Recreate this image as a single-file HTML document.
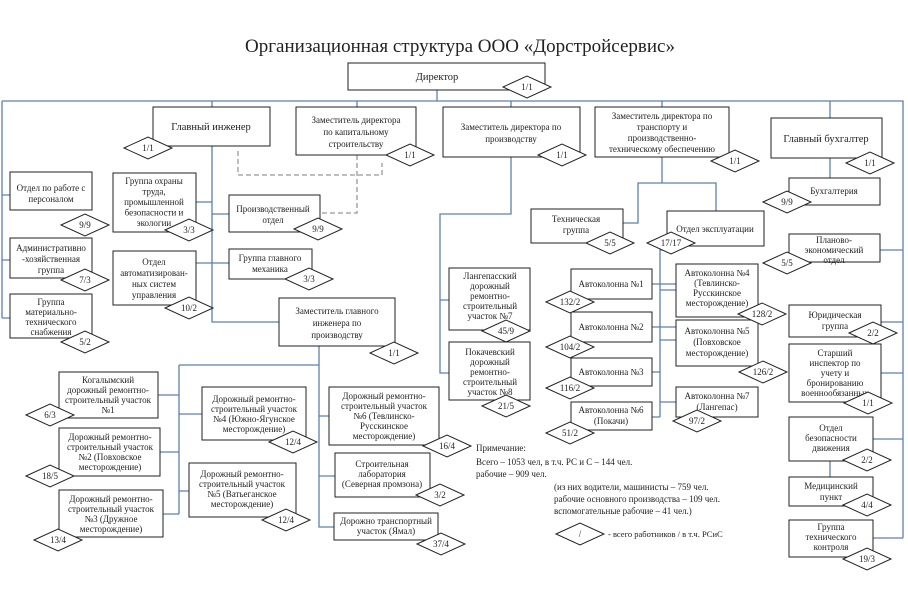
<!DOCTYPE html>
<html><head><meta charset="utf-8"><style>
body{margin:0;background:#fff}
svg{display:block}
text{font-family:"Liberation Serif",serif;fill:#222;font-size:9px}
.b{fill:#fff;stroke:#222;stroke-width:1}
.l{stroke:#5f80aa;stroke-width:1.3;fill:none}
.d{stroke:#999;stroke-width:1.3;fill:none;stroke-dasharray:5,3}
.t{text-anchor:middle}
</style></head><body>
<svg width="908" height="610" viewBox="0 0 908 610" xmlns="http://www.w3.org/2000/svg">
<defs><polygon id="dm" points="-24,0 0,-11 24,0 0,11" fill="#fff" stroke="#222" stroke-width="1"/></defs>
<text x="460" y="52" class="t" style="font-size:19px">Организационная структура ООО «Дорстройсервис»</text>

<g class="l">
<path d="M437 90V101M2 101H903V538M2 101V318M2 195H10M2 260H10M2 318H10"/>
<path d="M212 101V107M212 146V322H279M196 202H212M212 214H229M196 263H212M212 263H229"/>
<path d="M357 101V107M511 101V107M662 101V107M830 101V118"/>
<path d="M511 157V214H440V373H449M440 300H449"/>
<path d="M662 157V183H638V223H623M638 183H716V211"/>
<path d="M663 250H660V417M652 284H676M652 327H676M652 372H660M652 417H660M660 290H676M660 340H676M660 402H676"/>
<path d="M830 158V178M880 250H903M881 322H903M881 373H903M873 439H903M873 538H903M830 461V477"/>
<path d="M319 346V527H334M179 365H319M179 365V514M158 395H179M160 452H179M163 514H179M179 414H202M179 491H189M319 416H329M319 476H335"/>
</g>
<path class="d" d="M238 151V175H382V163M357 155V213H320"/>

<g>
<rect class="b" x="348" y="63" width="197" height="27"/><text x="437" y="80" class="t" style="font-size:10.5px">Директор</text>
<rect class="b" x="153" y="107" width="117" height="39"/><text x="211" y="130" class="t" style="font-size:10.5px">Главный инженер</text>
<rect class="b" x="296" y="107" width="120" height="48"/><text class="t" x="356" y="123">Заместитель директора<tspan x="356" dy="12">по капитальному</tspan><tspan x="356" dy="12">строительству</tspan></text>
<rect class="b" x="443" y="107" width="137" height="50"/><text class="t" x="511" y="130">Заместитель директора по<tspan x="511" dy="12">производству</tspan></text>
<rect class="b" x="595" y="107" width="134" height="50"/><text class="t" x="662" y="119">Заместитель директора по<tspan x="662" dy="11">транспорту и</tspan><tspan x="662" dy="11">производственно-</tspan><tspan x="662" dy="11">техническому обеспечению</tspan></text>
<rect class="b" x="771" y="118" width="111" height="40"/><text x="826" y="142" class="t" style="font-size:10.5px">Главный бухгалтер</text>

<rect class="b" x="10" y="172" width="82" height="38"/><text class="t" x="51" y="191">Отдел по работе с<tspan x="51" dy="11">персоналом</tspan></text>
<rect class="b" x="10" y="238" width="82" height="40"/><text class="t" x="51" y="251">Административно<tspan x="51" dy="11">-хозяйственная</tspan><tspan x="51" dy="11">группа</tspan></text>
<rect class="b" x="10" y="294" width="82" height="44"/><text class="t" x="51" y="305">Группа<tspan x="51" dy="10">материально-</tspan><tspan x="51" dy="10">технического</tspan><tspan x="51" dy="10">снабжения</tspan></text>
<rect class="b" x="113" y="173" width="83" height="59"/><text class="t" x="154" y="184">Группа охраны<tspan x="154" dy="10.5">труда,</tspan><tspan x="154" dy="10.5">промышленной</tspan><tspan x="154" dy="10.5">безопасности и</tspan><tspan x="154" dy="10.5">экологии</tspan></text>
<rect class="b" x="113" y="251" width="83" height="54"/><text class="t" x="154" y="265">Отдел<tspan x="154" dy="11">автоматизирован-</tspan><tspan x="154" dy="11">ных систем</tspan><tspan x="154" dy="11">управления</tspan></text>
<rect class="b" x="229" y="195" width="91" height="37"/><text class="t" x="273" y="212">Производственный<tspan x="273" dy="11">отдел</tspan></text>
<rect class="b" x="229" y="249" width="83" height="30"/><text class="t" x="270" y="261">Группа главного<tspan x="270" dy="11">механика</tspan></text>
<rect class="b" x="279" y="298" width="116" height="48"/><text class="t" x="337" y="314">Заместитель главного<tspan x="337" dy="12">инженера по</tspan><tspan x="337" dy="12">производству</tspan></text>

<rect class="b" x="59" y="372" width="99" height="46"/><text class="t" x="108" y="383">Когалымский<tspan x="108" dy="10">дорожный ремонтно-</tspan><tspan x="108" dy="10">строительный участок</tspan><tspan x="108" dy="10">№1</tspan></text>
<rect class="b" x="59" y="428" width="101" height="48"/><text class="t" x="110" y="440">Дорожный ремонтно-<tspan x="110" dy="10">строительный участок</tspan><tspan x="110" dy="10">№2 (Повховское</tspan><tspan x="110" dy="10">месторождение)</tspan></text>
<rect class="b" x="59" y="490" width="104" height="47"/><text class="t" x="111" y="502">Дорожный ремонтно-<tspan x="111" dy="10">строительный участок</tspan><tspan x="111" dy="10">№3 (Дружное</tspan><tspan x="111" dy="10">месторождение)</tspan></text>
<rect class="b" x="202" y="387" width="104" height="53"/><text class="t" x="254" y="402">Дорожный ремонтно-<tspan x="254" dy="10">строительный участок</tspan><tspan x="254" dy="10">№4 (Южно-Ягунское</tspan><tspan x="254" dy="10">месторождение)</tspan></text>
<rect class="b" x="189" y="463" width="107" height="54"/><text class="t" x="242" y="477">Дорожный ремонтно-<tspan x="242" dy="10">строительный участок</tspan><tspan x="242" dy="10">№5 (Ватьеганское</tspan><tspan x="242" dy="10">месторождение)</tspan></text>
<rect class="b" x="329" y="387" width="110" height="58"/><text class="t" x="384" y="399">Дорожный ремонтно-<tspan x="384" dy="10">строительный участок</tspan><tspan x="384" dy="10">№6 (Тевлинско-</tspan><tspan x="384" dy="10">Русскинское</tspan><tspan x="384" dy="10">месторождение)</tspan></text>
<rect class="b" x="335" y="453" width="95" height="44"/><text class="t" x="382" y="467">Строительная<tspan x="382" dy="10">лаборатория</tspan><tspan x="382" dy="10">(Северная промзона)</tspan></text>
<rect class="b" x="334" y="513" width="104" height="27"/><text class="t" x="386" y="524">Дорожно транспортный<tspan x="386" dy="10">участок (Ямал)</tspan></text>

<rect class="b" x="449" y="268" width="81" height="62"/><text class="t" x="490" y="279">Лангепасский<tspan x="490" dy="10">дорожный</tspan><tspan x="490" dy="10">ремонтно-</tspan><tspan x="490" dy="10">строительный</tspan><tspan x="490" dy="10">участок №7</tspan></text>
<rect class="b" x="449" y="342" width="81" height="58"/><text class="t" x="490" y="355">Покачевский<tspan x="490" dy="10">дорожный</tspan><tspan x="490" dy="10">ремонтно-</tspan><tspan x="490" dy="10">строительный</tspan><tspan x="490" dy="10">участок №8</tspan></text>
<rect class="b" x="531" y="209" width="92" height="34"/><text class="t" x="576" y="222">Техническая<tspan x="576" dy="11">группа</tspan></text>
<rect class="b" x="667" y="211" width="97" height="35"/><text class="t" x="715" y="232">Отдел эксплуатации</text>
<rect class="b" x="571" y="269" width="81" height="30"/><text class="t" x="611" y="287">Автоколонна №1</text>
<rect class="b" x="571" y="312" width="81" height="30"/><text class="t" x="611" y="330">Автоколонна №2</text>
<rect class="b" x="571" y="358" width="81" height="28"/><text class="t" x="611" y="375">Автоколонна №3</text>
<rect class="b" x="571" y="402" width="81" height="28"/><text class="t" x="611" y="413">Автоколонна №6<tspan x="611" dy="11">(Покачи)</tspan></text>
<rect class="b" x="676" y="264" width="82" height="53"/><text class="t" x="717" y="276">Автоколонна №4<tspan x="717" dy="10">(Тевлинско-</tspan><tspan x="717" dy="10">Русскинское</tspan><tspan x="717" dy="10">месторождение)</tspan></text>
<rect class="b" x="676" y="320" width="82" height="46"/><text class="t" x="717" y="334">Автоколонна №5<tspan x="717" dy="11">(Повховское</tspan><tspan x="717" dy="11">месторождение)</tspan></text>
<rect class="b" x="676" y="387" width="82" height="30"/><text class="t" x="717" y="399">Автоколонна №7<tspan x="717" dy="11">(Лангепас)</tspan></text>

<rect class="b" x="789" y="178" width="91" height="27"/><text class="t" x="834" y="194">Бухгалтерия</text>
<rect class="b" x="789" y="234" width="91" height="28"/><text class="t" x="834" y="243">Планово-<tspan x="834" dy="10">экономический</tspan><tspan x="834" dy="10">отдел</tspan></text>
<rect class="b" x="789" y="305" width="92" height="32"/><text class="t" x="835" y="318">Юридическая<tspan x="835" dy="11">группа</tspan></text>
<rect class="b" x="789" y="344" width="92" height="58"/><text class="t" x="835" y="356">Старший<tspan x="835" dy="10">инспектор по</tspan><tspan x="835" dy="10">учету и</tspan><tspan x="835" dy="10">бронированию</tspan><tspan x="835" dy="10">военнообязанных</tspan></text>
<rect class="b" x="789" y="417" width="84" height="44"/><text class="t" x="831" y="431">Отдел<tspan x="831" dy="10">безопасности</tspan><tspan x="831" dy="10">движения</tspan></text>
<rect class="b" x="789" y="477" width="84" height="29"/><text class="t" x="831" y="489">Медицинский<tspan x="831" dy="11">пункт</tspan></text>
<rect class="b" x="789" y="520" width="84" height="37"/><text class="t" x="831" y="530">Группа<tspan x="831" dy="10">технического</tspan><tspan x="831" dy="10">контроля</tspan></text>
</g>

<g class="t">
<use href="#dm" x="527" y="87"/><text x="527" y="90">1/1</text>
<use href="#dm" x="148" y="148"/><text x="148" y="151">1/1</text>
<use href="#dm" x="410" y="155"/><text x="410" y="158">1/1</text>
<use href="#dm" x="562" y="155"/><text x="562" y="158">1/1</text>
<use href="#dm" x="735" y="161"/><text x="735" y="164">1/1</text>
<use href="#dm" x="870" y="163"/><text x="870" y="166">1/1</text>
<use href="#dm" x="85" y="225"/><text x="85" y="228">9/9</text>
<use href="#dm" x="85" y="280"/><text x="85" y="283">7/3</text>
<use href="#dm" x="85" y="342"/><text x="85" y="345">5/2</text>
<use href="#dm" x="189" y="230"/><text x="189" y="233">3/3</text>
<use href="#dm" x="189" y="308"/><text x="189" y="311">10/2</text>
<use href="#dm" x="318" y="229"/><text x="318" y="232">9/9</text>
<use href="#dm" x="309" y="279"/><text x="309" y="282">3/3</text>
<use href="#dm" x="394" y="353"/><text x="394" y="356">1/1</text>
<use href="#dm" x="50" y="415"/><text x="50" y="418">6/3</text>
<use href="#dm" x="50" y="476"/><text x="50" y="479">18/5</text>
<use href="#dm" x="58" y="540"/><text x="58" y="543">13/4</text>
<use href="#dm" x="293" y="442"/><text x="293" y="445">12/4</text>
<use href="#dm" x="286" y="520"/><text x="286" y="523">12/4</text>
<use href="#dm" x="447" y="446"/><text x="447" y="449">16/4</text>
<use href="#dm" x="440" y="495"/><text x="440" y="498">3/2</text>
<use href="#dm" x="441" y="544"/><text x="441" y="547">37/4</text>
<use href="#dm" x="506" y="331"/><text x="506" y="334">45/9</text>
<use href="#dm" x="506" y="406"/><text x="506" y="409">21/5</text>
<use href="#dm" x="610" y="243"/><text x="610" y="246">5/5</text>
<use href="#dm" x="671" y="243"/><text x="671" y="246">17/17</text>
<use href="#dm" x="570" y="302"/><text x="570" y="305">132/2</text>
<use href="#dm" x="570" y="347"/><text x="570" y="350">104/2</text>
<use href="#dm" x="570" y="388"/><text x="570" y="391">116/2</text>
<use href="#dm" x="570" y="433"/><text x="570" y="436">51/2</text>
<use href="#dm" x="762" y="314"/><text x="762" y="317">128/2</text>
<use href="#dm" x="763" y="372"/><text x="763" y="375">126/2</text>
<use href="#dm" x="697" y="421"/><text x="697" y="424">97/2</text>
<use href="#dm" x="787" y="202"/><text x="787" y="205">9/9</text>
<use href="#dm" x="787" y="263"/><text x="787" y="266">5/5</text>
<use href="#dm" x="873" y="333"/><text x="873" y="336">2/2</text>
<use href="#dm" x="868" y="403"/><text x="868" y="406">1/1</text>
<use href="#dm" x="867" y="460"/><text x="867" y="463">2/2</text>
<use href="#dm" x="867" y="505"/><text x="867" y="508">4/4</text>
<use href="#dm" x="867" y="559"/><text x="867" y="562">19/3</text>
<use href="#dm" x="580" y="534"/><text x="580" y="537">/</text>
</g>

<text x="476" y="451">Примечание:</text>
<text x="476" y="465">Всего – 1053 чел, в т.ч. РС и С – 144 чел.</text>
<text x="476" y="477">рабочие – 909 чел.</text>
<text x="554" y="490">(из них водители, машинисты – 759 чел.</text>
<text x="554" y="502">рабочие основного производства – 109 чел.</text>
<text x="554" y="514">вспомогательные рабочие – 41 чел.)</text>
<text x="608" y="537" style="font-size:8.5px">- всего работников / в т.ч. РСиС</text>
</svg>
</body></html>
